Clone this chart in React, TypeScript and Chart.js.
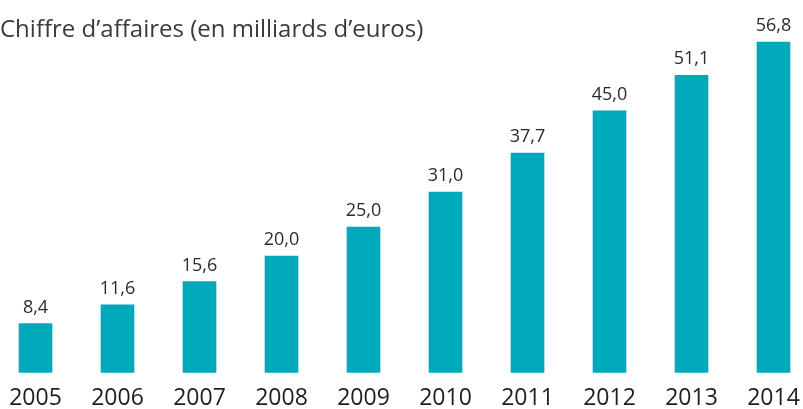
import React, { useEffect, useRef } from "react";
import { Chart, registerables } from "chart.js";

Chart.register(...registerables);

const years = ["2005", "2006", "2007", "2008", "2009", "2010", "2011", "2012", "2013", "2014"];
const revenue = [8.4, 11.6, 15.6, 20.0, 25.0, 31.0, 37.7, 45.0, 51.1, 56.8];
const titleText = "Chiffre d\u2019affaires (en milliards d\u2019euros)";

const FONT = "'Open Sans', 'Noto Sans', sans-serif";
const BAR = "#00a9ba";

const valueLabels = {
  id: "valueLabels",
  afterDatasetsDraw(chart: any) {
    const ctx = chart.ctx;
    const meta = chart.getDatasetMeta(0);
    ctx.save();
    ctx.font = `18px ${FONT}`;
    ctx.fillStyle = "#2b2b2b";
    ctx.textAlign = "center";
    ctx.textBaseline = "alphabetic";
    meta.data.forEach((el: any, i: number) => {
      const v = revenue[i].toFixed(1).replace(".", ",");
      ctx.fillText(v, el.x, el.y - 11);
    });
    ctx.restore();
  },
};

const topTitle = {
  id: "topTitle",
  afterDraw(chart: any) {
    const ctx = chart.ctx;
    ctx.save();
    ctx.font = `24px ${FONT}`;
    ctx.fillStyle = "#3a3a3a";
    ctx.textAlign = "left";
    ctx.textBaseline = "alphabetic";
    ctx.fillText(titleText, 0, 37);
    ctx.restore();
  },
};

export default function App() {
  const ref = useRef<HTMLCanvasElement>(null);
  useEffect(() => {
    const chart = new Chart(ref.current!, {
      type: "bar",
      data: {
        labels: years,
        datasets: [
          {
            data: revenue,
            backgroundColor: BAR,
            barThickness: 33,
            clip: false as any,
          },
        ],
      },
      options: {
        animation: false,
        responsive: false,
        maintainAspectRatio: false,
        layout: { padding: { left: 35.5, right: 29.5, top: 23.5, bottom: -15 } },
        plugins: {
          legend: { display: false },
          tooltip: { enabled: false },
          title: { display: false },
        },
        scales: {
          x: {
            offset: false,
            grid: { display: false, drawTicks: false },
            border: { display: false },
            afterFit(scale: any) {
              scale.paddingLeft = 0;
              scale.paddingRight = 0;
            },
            ticks: {
              color: "#1e1e1e",
              font: { family: FONT, size: 23 },
              padding: 12,
              maxRotation: 0,
              autoSkip: false,
            },
          },
          y: {
            display: false,
            min: 0,
            max: 60,
          },
        },
      },
      plugins: [valueLabels, topTitle],
    });
    return () => chart.destroy();
  }, []);
  return (
    <div style={{ position: "fixed", left: 0, top: 0, width: 803, height: 409, background: "#fff" }}>
      <canvas ref={ref} width={803} height={409} style={{ width: 803, height: 409, display: "block" }} />
    </div>
  );
}
